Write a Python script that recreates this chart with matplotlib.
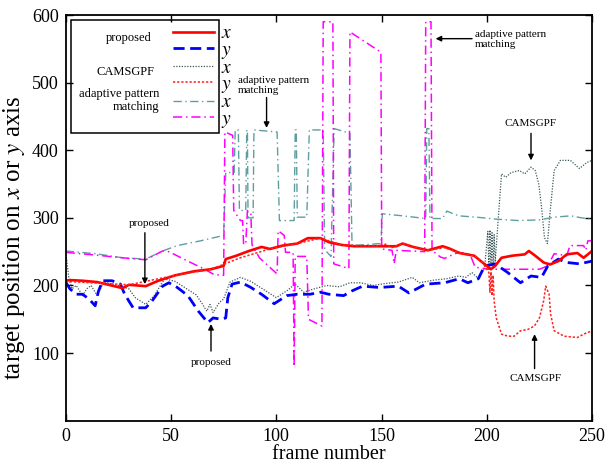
import matplotlib
matplotlib.use("Agg")
import matplotlib.pyplot as plt
from matplotlib.lines import Line2D
from matplotlib.patches import Rectangle

plt.rcParams['font.family'] = ['Liberation Serif', 'DejaVu Serif']
plt.rcParams['mathtext.fontset'] = 'stix'

# proposed, x (red solid)
prop_x_frames = [0, 2, 8, 15, 19, 27, 30, 38, 44, 52, 61, 69, 75, 76, 81, 87, 93, 97, 103, 110,
                 115, 121, 125, 131, 137, 147, 157, 160, 165, 172, 179, 182, 187, 194, 198, 202, 204, 207, 212, 218,
                 220, 223, 227, 230, 234, 238, 243, 246, 250]
prop_x_vals = [207, 208, 207, 205, 202, 196, 201, 199, 207, 215, 221, 224, 229, 239, 244, 251, 257, 254, 259, 262,
               270, 270, 264, 260, 258, 258, 258, 262, 257, 252, 258, 255, 248, 244, 234, 224, 229, 241, 244, 246,
               251, 244, 234, 231, 236, 246, 248, 241, 251]

# proposed, y (blue dashed)
prop_y_frames = [0, 2, 5, 8, 11, 14, 15.5, 17.5, 22, 26, 28, 32, 38, 41, 46, 49, 53, 58, 63, 67.5,
                 70, 74, 76, 77, 79, 83, 88, 93, 99, 105, 110, 116, 121, 125, 132, 136, 141, 149, 158, 163,
                 171, 180, 187, 191, 196, 199, 204, 210, 216, 221, 226, 229, 234, 238, 244, 250]
prop_y_vals = [205, 195, 187, 187, 180, 170, 191, 207, 207, 202, 187, 167, 167, 177, 199, 204, 197, 185, 162, 145,
               152, 150, 152, 182, 202, 205, 197, 187, 173, 185, 187, 187, 190, 187, 185, 192, 199, 197, 199, 189,
               202, 204, 210, 204, 210, 229, 232, 219, 204, 214, 212, 229, 239, 234, 232, 236]

# CAMSGPF, x (grey dotted)
cams_x_frames = [0, 1.5, 3, 5, 8, 10, 12, 15, 18, 25, 30, 33, 38, 42, 47, 52, 57, 62, 65, 67,
                 68.5, 70, 73, 75, 78, 83, 88, 95, 100, 105, 109, 113, 118, 124, 130, 135, 140, 146, 152, 158,
                 164.6, 168, 175, 181, 186.6, 190, 193, 196, 199, 200.5, 201, 201.5, 202, 202.5, 203, 203.5, 204, 205.5, 207, 209,
                 211.6, 215.5, 218, 221, 223, 224.7, 226, 227.4, 228.8, 230, 232, 235, 239.7, 244, 247.6, 250]
cams_x_vals = [250, 210, 195, 200, 185, 195, 200, 185, 205, 200, 195, 182, 172, 185, 210, 206, 196, 186, 172, 162,
               172, 160, 175, 180, 205, 212, 206, 192, 182, 192, 202, 190, 195, 200, 198, 204, 204, 200, 203, 205,
               212, 204, 208, 210, 214, 212, 219, 210, 227, 280, 225, 282, 228, 278, 226, 275, 235, 301, 365, 360,
               367, 370, 365, 375, 370, 350, 316, 271, 262, 306, 370, 385, 385, 373, 382, 385]

# CAMSGPF, y (red dotted)
cams_y_frames = [0, 30, 52, 69, 83, 97, 110, 121, 131, 147, 152, 155, 160, 165, 172, 180, 187, 194, 198, 201,
                 201.5, 202, 202.5, 203, 203.5, 204.5, 207, 210, 213, 216, 219.5, 222.6, 225, 227, 228, 229.6, 230.3, 232, 236.7, 243,
                 246, 250]
cams_y_vals = [206, 201, 215, 224, 241, 254, 262, 270, 260, 258, 261, 256, 262, 257, 252, 256, 248, 244, 234, 219,
               190, 220, 185, 215, 177, 152, 128, 125, 125, 133, 135, 140, 152, 177, 199, 187, 158, 133, 125, 123,
               128, 133]

# adaptive pattern matching, x (teal dash-dot)
apm_x_frames = [0, 14, 27, 38, 46, 53, 64, 75, 76, 80, 80.5, 82, 82.5, 85.5, 86, 86.3, 86.6, 89, 89.4, 100.4,
                101.5, 108.5, 109, 109.5, 110, 114.5, 115.7, 122.3, 123, 126, 127.5, 135, 136, 149.7, 150.4, 160, 171, 171.5, 172.5, 173,
                179, 181, 186.6, 195, 205, 215, 225, 232, 240, 245, 250]
apm_x_vals = [251, 247, 241, 239, 251, 259, 266, 274, 367, 367, 430, 430, 311, 311, 430, 430, 300, 300, 430, 427,
              296, 296, 430, 430, 301, 301, 430, 430, 253, 243, 432, 425, 259, 262, 306, 303, 299, 432, 432, 299,
              299, 310, 303, 301, 298, 296, 297, 301, 303, 300, 298]

# adaptive pattern matching, y (magenta dash-dot)
apm_y_frames = [0, 14, 30, 38, 46, 49, 58, 66, 70.5, 75, 75.6, 79.3, 79.8, 83, 84, 84.5, 85.5, 86.3, 87.9, 88.5,
                92, 100.4, 100.9, 103.8, 104.4, 108, 108.5, 109, 114.5, 115.3, 121.7, 122.3, 126.9, 127.3, 134.5, 135, 149.7, 150.1, 155, 156,
                157, 170.5, 171, 173.5, 174, 178, 180, 182, 186.6, 192, 194.5, 201, 225, 229, 232, 238, 239.5, 246, 247, 248,
                250]
apm_y_vals = [249, 245, 240, 238, 251, 250, 236, 224, 216, 215, 427, 422, 311, 296, 296, 261, 261, 311, 306, 260,
              241, 217, 281, 274, 249, 249, 80, 243, 243, 150, 140, 590, 590, 232, 225, 575, 545, 254, 252, 232,
              252, 250, 590, 590, 252, 242, 240, 243, 249, 246, 227, 224, 224, 229, 247, 244, 259, 259, 252, 266,
              266]

x_ticks = [0, 50, 100, 150, 200, 250]
y_ticks = [100, 200, 300, 400, 500, 600]

fig = plt.figure(figsize=(6.12, 4.66), dpi=100)
ax = fig.add_axes([0.1074, 0.0972, 0.8600, 0.8706])

teal = '#5f9ea0'
l_cx, = ax.plot(cams_x_frames, cams_x_vals, color='#3c5a5a', ls=(0, (1, 1.2)), lw=0.9)
l_ax, = ax.plot(apm_x_frames, apm_x_vals, color=teal, ls=(0, (6, 2.5, 1, 2.5)), lw=1.0)
l_ay, = ax.plot(apm_y_frames, apm_y_vals, color='#ff00ff', ls=(0, (6, 2.5, 1, 2.5)), lw=1.1)
l_py, = ax.plot(prop_y_frames, prop_y_vals, color='#0000ff', ls=(0, (4, 2)), lw=2.0)
l_px, = ax.plot(prop_x_frames, prop_x_vals, color='#ff0000', ls='-', lw=1.9)
l_cy, = ax.plot(cams_y_frames, cams_y_vals, color='#ff2020', ls=(0, (1.5, 1.2)), lw=1.1)

ax.set_xlim(0, 250)
ax.set_ylim(0, 600)
ax.set_xticks(x_ticks)
ax.set_yticks(y_ticks)
ax.tick_params(direction='in', top=True, right=True, length=5, width=1, labelsize=13, pad=5)
for s in ax.spines.values():
    s.set_linewidth(1.3)
ax.set_xlabel('frame number', fontsize=14.5, labelpad=0)
ax.set_ylabel('target position on $x$ or $y$ axis', fontsize=18, va='center')
ax.yaxis.set_label_coords(-0.098, 0.45)

# legend: x / y samples, plus group names on the left
handles = [
    Line2D([], [], color='#ff0000', ls='-', lw=1.9),
    Line2D([], [], color='#0000ff', ls=(0, (4, 2)), lw=2.0),
    Line2D([], [], color='#3c5a5a', ls=(0, (1, 1.2)), lw=0.9),
    Line2D([], [], color='#ff2020', ls=(0, (1.5, 1.2)), lw=1.1),
    Line2D([], [], color=teal, ls=(0, (6, 2.5, 1, 2.5)), lw=1.0),
    Line2D([], [], color='#ff00ff', ls=(0, (6, 2.5, 1, 2.5)), lw=1.1),
]
leg = ax.legend(handles, ['$x$', '$y$'] * 3, loc='upper left', bbox_to_anchor=(0.185, 1.0),
                frameon=False, borderpad=0, handlelength=2.1, handletextpad=0.4,
                labelspacing=-0.07, fontsize=14)
ax.add_patch(Rectangle((0.0094, 0.708), 0.282, 0.28, transform=ax.transAxes,
                       fill=False, ec='black', lw=1.1, zorder=5))
ax.text(0.164, 0.943, 'proposed', transform=ax.transAxes, ha='right', va='center', fontsize=9)
ax.text(0.168, 0.859, 'CAMSGPF', transform=ax.transAxes, ha='right', va='center', fontsize=9)
ax.text(0.177, 0.79, 'adaptive pattern\nmatching', transform=ax.transAxes, ha='right', va='center',
        multialignment='right', fontsize=9, linespacing=1.15)

# annotations
arr = dict(arrowstyle='-|>', color='black', lw=1.0, mutation_scale=8, shrinkA=0, shrinkB=0)
ax.text(39.5, 291, 'proposed', ha='center', va='center', fontsize=8)
ax.annotate('', xy=(37.6, 202), xytext=(37.6, 278), arrowprops=arr)
ax.text(69, 86, 'proposed', ha='center', va='center', fontsize=8)
ax.annotate('', xy=(69, 143), xytext=(69, 103), arrowprops=arr)
ax.text(81.8, 496, 'adaptive pattern\nmatching', ha='left', va='center', fontsize=8, linespacing=1.1)
ax.annotate('', xy=(95.4, 433), xytext=(95.4, 478), arrowprops=arr)
ax.text(194.5, 564, 'adaptive pattern\nmatching', ha='left', va='center', fontsize=8, linespacing=1.1)
ax.annotate('', xy=(175.7, 565), xytext=(193, 565), arrowprops=arr)
ax.text(221, 440, 'CAMSGPF', ha='center', va='center', fontsize=8)
ax.annotate('', xy=(221, 385), xytext=(221, 425), arrowprops=arr)
ax.text(223, 63, 'CAMSGPF', ha='center', va='center', fontsize=8)
ax.annotate('', xy=(222.7, 128), xytext=(222.7, 77), arrowprops=arr)

fig.savefig('out.png', dpi=100)
